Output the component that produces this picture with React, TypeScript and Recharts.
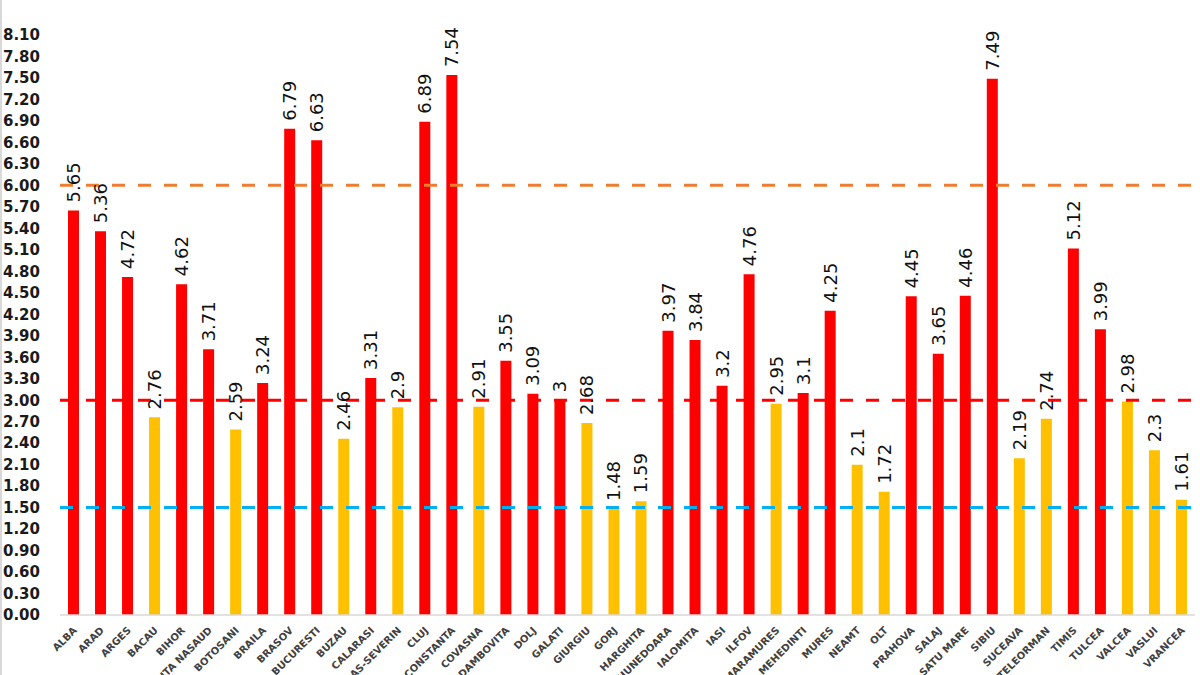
import React from 'react'
import { Bar, BarChart, Cell, LabelList, ReferenceLine, XAxis, YAxis } from 'recharts'

const counties = [
  'ALBA', 'ARAD', 'ARGES', 'BACAU', 'BIHOR', 'BISTRITA NASAUD', 'BOTOSANI', 'BRAILA',
  'BRASOV', 'BUCURESTI', 'BUZAU', 'CALARASI', 'CARAS-SEVERIN', 'CLUJ', 'CONSTANTA',
  'COVASNA', 'DAMBOVITA', 'DOLJ', 'GALATI', 'GIURGIU', 'GORJ', 'HARGHITA', 'HUNEDOARA',
  'IALOMITA', 'IASI', 'ILFOV', 'MARAMURES', 'MEHEDINTI', 'MURES', 'NEAMT', 'OLT',
  'PRAHOVA', 'SALAJ', 'SATU MARE', 'SIBIU', 'SUCEAVA', 'TELEORMAN', 'TIMIS', 'TULCEA',
  'VALCEA', 'VASLUI', 'VRANCEA',
]

const rates = [
  5.65, 5.36, 4.72, 2.76, 4.62, 3.71, 2.59, 3.24,
  6.79, 6.63, 2.46, 3.31, 2.9, 6.89, 7.54,
  2.91, 3.55, 3.09, 3, 2.68, 1.48, 1.59, 3.97,
  3.84, 3.2, 4.76, 2.95, 3.1, 4.25, 2.1, 1.72,
  4.45, 3.65, 4.46, 7.49, 2.19, 2.74, 5.12, 3.99,
  2.98, 2.3, 1.61,
]

const yTicks = [
  0, 0.3, 0.6, 0.9, 1.2, 1.5, 1.8, 2.1, 2.4, 2.7, 3.0, 3.3, 3.6, 3.9,
  4.2, 4.5, 4.8, 5.1, 5.4, 5.7, 6.0, 6.3, 6.6, 6.9, 7.2, 7.5, 7.8, 8.1,
]

const thresholds = { high: 6, mid: 3, low: 1.5 }

const data = counties.map((county, i) => ({ county, rate: rates[i] }))

const RED = '#FF0000'
const YELLOW = '#FFC000'

const CountyTick = (props: any) => {
  const { x, y, payload } = props
  const tx = x + 4
  const ty = y + 8
  return (
    <text
      x={tx}
      y={ty}
      transform={`rotate(-45, ${tx}, ${ty})`}
      textAnchor="end"
      fontSize={10}
      fontWeight="bold"
      fontFamily="DejaVu Sans, sans-serif"
      fill="#404040"
    >
      {payload.value}
    </text>
  )
}

const ValueLabel = (props: any) => {
  const { x, y, width, value } = props
  const cx = x + width / 2
  const ty = y - 8
  return (
    <text
      x={cx}
      y={ty}
      transform={`rotate(-90, ${cx}, ${ty})`}
      textAnchor="start"
      dominantBaseline="central"
      fontSize={18}
      fontFamily="DejaVu Sans, sans-serif"
      fill="#111"
    >
      {value}
    </text>
  )
}

export default function App() {
  return (
    <div
      style={{
        position: 'absolute',
        left: 0,
        top: 0,
        width: 1200,
        height: 675,
        background: '#fff',
        borderLeft: '2px solid #d9d9d9',
        boxSizing: 'border-box',
      }}
    >
      <BarChart
        width={1198}
        height={675}
        data={data}
        margin={{ top: 35, right: 5, bottom: 0, left: -2 }}
        barCategoryGap={0}
      >
        <XAxis
          dataKey="county"
          interval={0}
          tick={<CountyTick />}
          tickLine={false}
          axisLine={{ stroke: '#d9d9d9', strokeWidth: 1.5 }}
          height={60}
        />
        <YAxis
          domain={[0, 8.1]}
          ticks={yTicks}
          interval={0}
          width={60}
          axisLine={false}
          tickLine={false}
          tickSize={0}
          tickMargin={20}
          tickFormatter={(v: number) => v.toFixed(2)}
          tick={{ fontSize: 15, fontWeight: 'bold', fill: '#1a1a1a', fontFamily: 'DejaVu Sans, sans-serif' }}
        />
        <Bar dataKey="rate" barSize={11} isAnimationActive={false}>
          {data.map((d) => (
            <Cell key={d.county} fill={d.rate >= thresholds.mid ? RED : YELLOW} />
          ))}
          <LabelList dataKey="rate" content={<ValueLabel />} />
        </Bar>
        <ReferenceLine y={thresholds.high} stroke="#ED7D31" strokeWidth={3} strokeDasharray="13 13" />
        <ReferenceLine y={thresholds.mid} stroke="#FF0000" strokeWidth={3} strokeDasharray="13 13" />
        <ReferenceLine y={thresholds.low} stroke="#00B0F0" strokeWidth={3} strokeDasharray="13 13" />
      </BarChart>
    </div>
  )
}
